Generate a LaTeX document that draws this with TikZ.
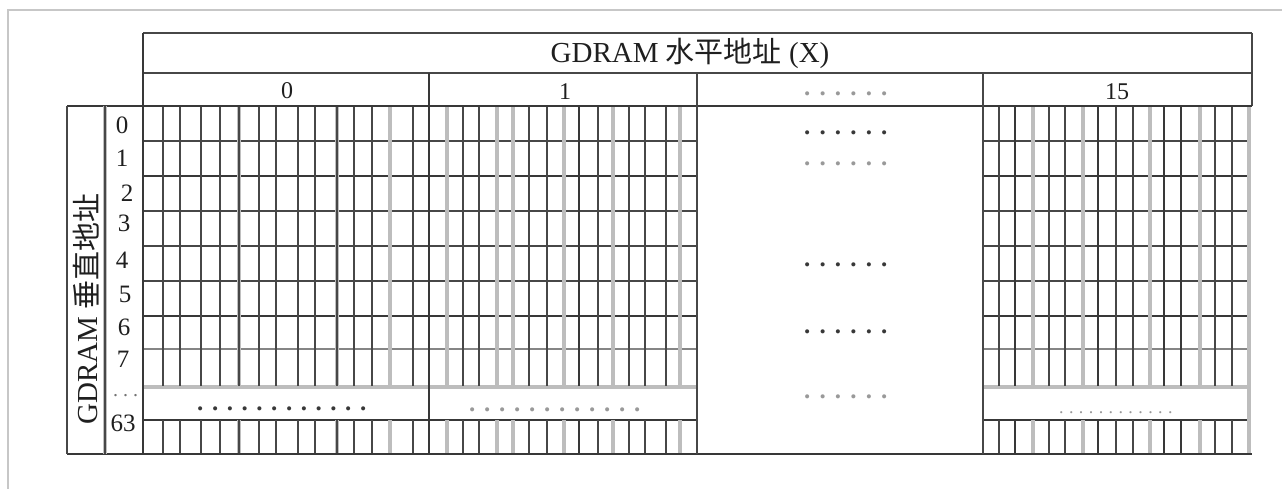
\documentclass[tikz,border=0pt]{standalone}
\usepackage{fontspec}
\setmainfont{Liberation Serif}
\newfontfamily\cjk{Noto Sans CJK SC}
\newcommand\dotrow[2]{\count255=#1\relax\loop .\ifnum\count255>1 \hspace{#2}\advance\count255 by -1 \repeat}
\begin{document}
\begin{tikzpicture}[x=1pt,y=-1pt,
  ln/.style={line width=1.8pt, draw=black!72},
  tk/.style={line width=2.8pt, draw=black!78},
  gl/.style={line width=3.4pt, draw=black!26},
  md/.style={line width=2.6pt, draw=black!48},
  gn/.style={ln, preaction={draw, line width=4pt, black!25}},
  lab/.style={inner sep=0pt, text=black!88, font=\fontsize{25}{25}\selectfont},
  colno/.style={inner sep=0pt, text=black!88, font=\fontsize{24}{24}\selectfont},
  big/.style={inner sep=0pt, text=black!88, font=\fontsize{29}{29}\selectfont},
  dotsd/.style={inner sep=0pt, anchor=base west, text=black!78, font=\bfseries\fontsize{25}{25}\selectfont},
  dotsl/.style={inner sep=0pt, anchor=base west, text=black!40, font=\bfseries\fontsize{25}{25}\selectfont}
]
\useasboundingbox (0,0) rectangle (1282,489);
\fill[white] (0,0) rectangle (1282,489);
% outer frame
\draw[black!22, line width=1.5pt] (8,489) -- (8,10) -- (1282,10);

% ---- block 0 (x 143..429) ----
\foreach \y/\s in {141/ln,176/tk,211/ln,246/ln,281/ln,316/tk,349/md,387/gl,420/tk}
  \draw[style=\s] (143,\y) -- (429,\y);
\foreach \x/\s in {163/ln,180/ln,201/ln,220/ln,239/gn,259/ln,276/ln,298/ln,315/ln,337/gn,354/ln,372/ln,390/gl,413/ln}
  {\draw[style=\s] (\x,106) -- (\x,386); \draw[style=\s] (\x,420) -- (\x,454);}

% ---- block 1 (x 429..697) ----
\foreach \y/\s in {141/ln,176/tk,211/ln,246/ln,281/ln,316/tk,349/md,387/gl,420/tk}
  \draw[style=\s] (429,\y) -- (697,\y);
\foreach \x/\s in {447/gl,463/ln,479/ln,497/gl,513/gl,529/ln,547/ln,564/gl,579/tk,598/ln,613/gl,629/ln,645/ln,666/ln,680/gl}
  {\draw[style=\s] (\x,106) -- (\x,386); \draw[style=\s] (\x,420) -- (\x,454);}

% ---- block 15 (x 983..1252) ----
\foreach \y/\s in {141/ln,176/tk,211/ln,246/ln,281/ln,316/tk,349/md,387/gl,420/tk}
  \draw[style=\s] (983,\y) -- (1250,\y);
\foreach \x/\s in {999/ln,1015/tk,1033/gl,1049/ln,1065/ln,1083/gl,1098/tk,1116/ln,1133/ln,1150/gl,1164/tk,1181/tk,1200/gl,1215/ln,1232/ln}
  {\draw[style=\s] (\x,106) -- (\x,386); \draw[style=\s] (\x,420) -- (\x,454);}
\draw[gl] (1249,106) -- (1249,454);

% ---- frame lines ----
\draw[ln] (143,33) -- (1252,33);
\draw[ln] (143,73) -- (1252,73);
\draw[ln] (1252,33) -- (1252,106);
\draw[tk] (67,106) -- (1252,106);
\draw[tk] (67,454) -- (1252,454);
\draw[tk] (143,33) -- (143,454);
\draw[tk] (429,73) -- (429,454);
\draw[ln] (697,73) -- (697,454);
\draw[ln] (983,73) -- (983,454);
\draw[ln] (67,106) -- (67,454);
\draw[gn] (105,106) -- (105,454);

% ---- texts ----
\node[big] (hdr) at (690,53) {GDRAM {\cjk 水平地址} (X)};
\node[big, rotate=90] (vlab) at (86,309) {GDRAM {\cjk 垂直地址}};
\node[colno] (c0) at (287,91) {0};
\node[colno] (c1) at (565,92) {1};
\node[colno] (c15) at (1117,92) {15};
\node[dotsl] (cdots) at (804,96) {\dotrow{6}{9.15pt}};

\node[lab] (r0) at (122,125) {0};
\node[lab] (r1) at (122,158) {1};
\node[lab] (r2) at (127,193) {2};
\node[lab] (r3) at (124,223) {3};
\node[lab] (r4) at (122,260) {4};
\node[lab] (r5) at (125,294) {5};
\node[lab] (r6) at (124,327) {6};
\node[lab] (r7) at (123,359) {7};
\node[dotsl, font=\fontsize{20}{20}\selectfont, text=black!55] (rdots) at (113,396) {\dotrow{3}{5pt}};
\node[lab] (r63) at (123,423) {63};

% middle column dots
\node[dotsd] (m0) at (804,135) {\dotrow{6}{9.15pt}};
\node[dotsl] (m1) at (804,166) {\dotrow{6}{9.15pt}};
\node[dotsd] (m4) at (804,266) {\dotrow{6}{9.15pt}};
\node[dotsd] (m6) at (804,333) {\dotrow{6}{9.15pt}};
\node[dotsl] (m9) at (804,398) {\dotrow{6}{9.15pt}};

% dotted band rows
\node[dotsd] (b0) at (197,410) {\dotrow{12}{8.55pt}};
\node[dotsl] (b1) at (469,411) {\dotrow{12}{8.75pt}};
\node[dotsl, font=\fontsize{18}{18}\selectfont] (b15) at (1059,413) {\dotrow{12}{5.4pt}};
\end{tikzpicture}
\end{document}
